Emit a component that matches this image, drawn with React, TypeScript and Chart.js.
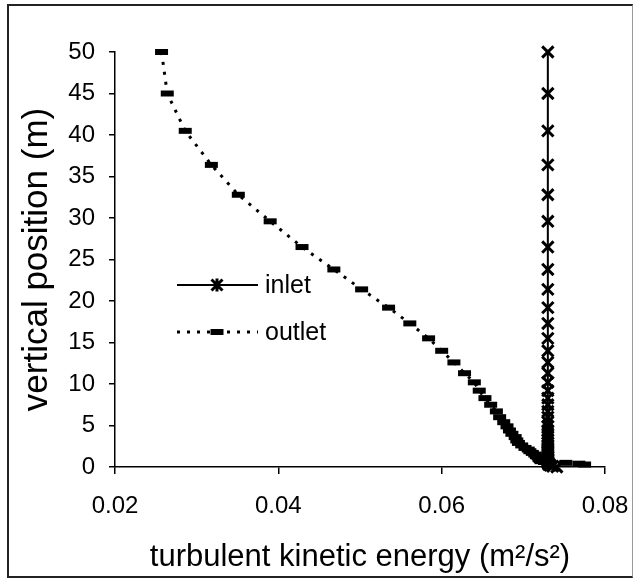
import React, { useEffect, useRef } from "react";
import { Chart, registerables } from "chart.js";

Chart.register(...registerables);

// vertical position (m)
const heights = [
  50, 45.0, 40.5, 36.4, 32.8, 29.6, 26.5, 23.8, 21.4, 19.2, 17.3, 15.5, 14.0,
  12.6, 11.3, 10.2, 9.2, 8.3, 7.5, 6.7, 6.0, 5.4, 4.9, 4.4, 4.0, 3.6, 3.2, 2.9,
  2.6, 2.3, 2.1, 1.9, 1.7, 1.5, 1.3, 1.2, 1.0, 0.9, 0.8, 0.7, 0.6, 0.5, 0.4,
  0.3, 0.2, 0.1, 0,
];

// turbulent kinetic energy (m2/s2) at the inlet
const inletTKE = [
  0.073, 0.073, 0.073, 0.073, 0.073, 0.073, 0.073, 0.073, 0.073, 0.073, 0.073,
  0.073, 0.073, 0.073, 0.073, 0.073, 0.073, 0.073, 0.073, 0.073, 0.073, 0.073,
  0.073, 0.073, 0.073, 0.073, 0.073, 0.073, 0.073, 0.073, 0.073, 0.073, 0.073,
  0.073, 0.073, 0.073, 0.073, 0.073, 0.073, 0.073, 0.073, 0.073, 0.0731,
  0.0731, 0.0733, 0.0736, 0.0741,
];

// turbulent kinetic energy (m2/s2) at the outlet
const outletTKE: (number | null)[] = [
  0.0257, 0.0264, 0.0286, 0.0318, 0.0351, 0.039, 0.0429, 0.0468, 0.0502,
  0.0535, 0.0561, 0.0584, 0.06, 0.0615, 0.0628, 0.064, 0.0646, 0.0653, 0.066,
  0.0667, 0.0671, 0.0676, 0.068, 0.0683, 0.0686, 0.069, 0.0692, 0.0694,
  0.0698, 0.0702, 0.0706, 0.0708, 0.0711, 0.0714, 0.0716, 0.0718, 0.0719,
  0.072, 0.0721, 0.0722, 0.0726, 0.0752, 0.0768, 0.0775, null, null, null,
];

const seriesLabels = ["inlet", "outlet"];
const xTicks = [0.02, 0.04, 0.06, 0.08];
const yTicks = [0, 5, 10, 15, 20, 25, 30, 35, 40, 45, 50];

const FONT = "'Liberation Sans', Arial, sans-serif";

const legendPlugin = {
  id: "insideLegend",
  afterDatasetsDraw(chart: any) {
    const ctx = chart.ctx;
    const rows = [285, 332];
    chart.data.datasets.forEach((ds: any, i: number) => {
      const y = rows[i];
      ctx.save();
      ctx.strokeStyle = "#000";
      ctx.lineWidth = ds.borderWidth;
      ctx.setLineDash(ds.borderDash || []);
      ctx.beginPath();
      ctx.moveTo(177, y);
      ctx.lineTo(258, y);
      ctx.stroke();
      ctx.setLineDash([]);
      ctx.lineWidth = ds.pointBorderWidth;
      ctx.beginPath();
      const cx = 217;
      if (ds.pointStyle === "crossRot") {
        const r = 5.5;
        ctx.moveTo(cx - r, y - r);
        ctx.lineTo(cx + r, y + r);
        ctx.moveTo(cx - r, y + r);
        ctx.lineTo(cx + r, y - r);
        ctx.moveTo(cx, y - r - 1);
        ctx.lineTo(cx, y + r + 1);
      } else {
        const r = ds.pointRadius;
        ctx.moveTo(cx - r, y);
        ctx.lineTo(cx + r, y);
      }
      ctx.stroke();
      ctx.fillStyle = "#000";
      ctx.font = `25px ${FONT}`;
      ctx.textBaseline = "middle";
      ctx.textAlign = "left";
      ctx.fillText(ds.label, 265, y + 1);
      ctx.restore();
    });
  },
};

export default function App() {
  const ref = useRef<HTMLCanvasElement | null>(null);

  useEffect(() => {
    if (!ref.current) return;
    const chart = new Chart(ref.current, {
      type: "line",
      data: {
        datasets: [
          {
            label: seriesLabels[0],
            data: heights.map((h, i) => ({ x: inletTKE[i], y: h })),
            borderColor: "#000",
            backgroundColor: "#000",
            borderWidth: 2,
            pointStyle: "crossRot",
            pointRadius: 8,
            pointBorderWidth: 3,
            pointBorderColor: "#000",
            fill: false,
            tension: 0,
            clip: false,
          },
          {
            label: seriesLabels[1],
            data: heights.map((h, i) => ({ x: outletTKE[i], y: h })) as any,
            borderColor: "#000",
            backgroundColor: "#000",
            borderWidth: 3,
            borderDash: [3, 7],
            pointStyle: "line",
            pointRadius: 6.5,
            pointBorderWidth: 6,
            pointBorderColor: "#000",
            fill: false,
            tension: 0,
            spanGaps: false,
            clip: false,
          },
        ],
      },
      options: {
        animation: false,
        responsive: false,
        layout: { padding: { left: 0, right: 29, top: 52, bottom: 0 } },
        plugins: { legend: { display: false }, tooltip: { enabled: false } },
        scales: {
          x: {
            type: "linear",
            min: 0.02,
            max: 0.08,
            afterFit: (s: any) => {
              s.height = 113;
              s.paddingLeft = 0;
              s.paddingRight = 0;
            },
            afterBuildTicks: (s: any) => {
              s.ticks = xTicks.map((v) => ({ value: v }));
            },
            grid: {
              display: true,
              drawOnChartArea: false,
              drawTicks: true,
              tickLength: 7,
              color: "#000",
              lineWidth: 1.5,
            },
            border: { display: true, color: "#000", width: 1.5 },
            ticks: {
              color: "#000",
              font: { family: FONT, size: 24 },
              padding: 18,
              callback: (v: any) => Number(v).toFixed(2),
            },
            title: {
              display: true,
              text: "turbulent kinetic energy (m²/s²)",
              color: "#000",
              font: { family: FONT, size: 31 },
              padding: { top: 0, bottom: 4 },
            },
          },
          y: {
            type: "linear",
            min: 0,
            max: 50,
            afterFit: (s: any) => {
              s.width = 115;
              s.paddingTop = 0;
              s.paddingBottom = 0;
            },
            afterBuildTicks: (s: any) => {
              s.ticks = yTicks.map((v) => ({ value: v }));
            },
            grid: {
              display: true,
              drawOnChartArea: false,
              drawTicks: true,
              tickLength: 6,
              color: "#000",
              lineWidth: 1.5,
            },
            border: { display: true, color: "#000", width: 1.5 },
            ticks: {
              color: "#000",
              font: { family: FONT, size: 24 },
              padding: 14,
            },
            title: {
              display: true,
              text: "vertical position (m)",
              color: "#000",
              font: { family: FONT, size: 35 },
              padding: { top: 16, bottom: 0 },
            },
          },
        },
      },
      plugins: [legendPlugin],
    });
    return () => chart.destroy();
  }, []);

  return (
    <div
      style={{
        position: "fixed",
        left: 0,
        top: 0,
        width: 634,
        height: 580,
        background: "#fff",
      }}
    >
      <canvas
        ref={ref}
        width={634}
        height={580}
        style={{ display: "block", width: 634, height: 580 }}
      />
      <div
        style={{
          position: "absolute",
          left: 7,
          top: 4,
          width: 626,
          height: 574,
          boxSizing: "border-box",
          borderTop: "2px solid #222",
          borderLeft: "2px solid #222",
          borderBottom: "2px solid #222",
          borderRight: "1px solid #999",
          pointerEvents: "none",
        }}
      />
    </div>
  );
}
